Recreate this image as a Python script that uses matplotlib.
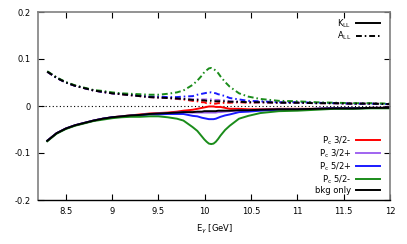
import numpy as np
import matplotlib
matplotlib.use('Agg')
import matplotlib.pyplot as plt
from matplotlib.lines import Line2D

plt.rcParams['font.family'] = 'DejaVu Sans'
plt.rcParams['mathtext.fontset'] = 'dejavusans'

# photon energy [GeV]
e_gamma = [8.3, 8.4, 8.5, 8.6, 8.7, 8.8, 8.9, 9.0, 9.1, 9.2, 9.3, 9.4, 9.5, 9.6, 9.7, 9.77,
           9.87, 9.92, 9.97, 9.995, 10.02, 10.045, 10.07, 10.095, 10.12, 10.145, 10.17, 10.22,
           10.27, 10.37, 10.47, 10.6, 10.8, 11.0, 11.2, 11.4, 11.6, 11.8, 12.0]

# K_LL (solid)
k_bkg = [-0.074, -0.058, -0.048, -0.041, -0.036, -0.031, -0.027, -0.024, -0.022, -0.020,
         -0.019, -0.017, -0.016, -0.015, -0.014, -0.013, -0.013, -0.012, -0.012, -0.011,
         -0.011, -0.011, -0.011, -0.011, -0.011, -0.010, -0.010, -0.010, -0.010, -0.009,
         -0.009, -0.008, -0.007, -0.007, -0.006, -0.005, -0.005, -0.004, -0.004]
k_32m = [-0.074, -0.058, -0.048, -0.041, -0.036, -0.031, -0.027, -0.024, -0.022, -0.020,
         -0.018, -0.016, -0.015, -0.014, -0.012, -0.010, -0.008, -0.006, -0.004, -0.003,
         -0.002, -0.001, -0.001, -0.001, -0.002, -0.002, -0.002, -0.004, -0.006, -0.006,
         -0.007, -0.007, -0.006, -0.006, -0.006, -0.005, -0.005, -0.004, -0.004]
k_32p = [-0.074, -0.058, -0.048, -0.041, -0.036, -0.031, -0.027, -0.024, -0.022, -0.020,
         -0.019, -0.017, -0.016, -0.015, -0.014, -0.013, -0.014, -0.014, -0.014, -0.014,
         -0.014, -0.014, -0.014, -0.014, -0.014, -0.013, -0.013, -0.012, -0.011, -0.009,
         -0.009, -0.008, -0.007, -0.007, -0.006, -0.005, -0.005, -0.004, -0.004]
k_52p = [-0.074, -0.058, -0.048, -0.041, -0.036, -0.031, -0.027, -0.024, -0.023, -0.021,
         -0.020, -0.018, -0.018, -0.017, -0.017, -0.017, -0.021, -0.022, -0.025, -0.026,
         -0.027, -0.028, -0.028, -0.028, -0.027, -0.025, -0.023, -0.020, -0.018, -0.013,
         -0.012, -0.010, -0.008, -0.008, -0.006, -0.005, -0.005, -0.004, -0.004]
k_52m = [-0.075, -0.059, -0.049, -0.042, -0.037, -0.032, -0.029, -0.026, -0.024, -0.023,
         -0.023, -0.022, -0.022, -0.024, -0.027, -0.031, -0.045, -0.053, -0.065, -0.071,
         -0.076, -0.080, -0.081, -0.080, -0.076, -0.070, -0.063, -0.051, -0.042, -0.027,
         -0.021, -0.015, -0.011, -0.010, -0.008, -0.006, -0.006, -0.005, -0.005]

# A_LL (dash-dot)
a_bkg = [0.073, 0.060, 0.050, 0.043, 0.038, 0.033, 0.030, 0.027, 0.025, 0.023,
         0.021, 0.019, 0.018, 0.017, 0.016, 0.015, 0.013, 0.013, 0.012, 0.012,
         0.011, 0.011, 0.011, 0.010, 0.010, 0.010, 0.010, 0.010, 0.009, 0.009,
         0.008, 0.008, 0.007, 0.007, 0.006, 0.006, 0.005, 0.005, 0.004]
a_32m = [0.073, 0.060, 0.050, 0.043, 0.038, 0.033, 0.030, 0.027, 0.025, 0.023,
         0.021, 0.019, 0.018, 0.017, 0.015, 0.014, 0.011, 0.010, 0.008, 0.008,
         0.006, 0.006, 0.006, 0.005, 0.005, 0.006, 0.006, 0.007, 0.007, 0.008,
         0.007, 0.008, 0.007, 0.007, 0.006, 0.006, 0.005, 0.005, 0.004]
a_32p = [0.073, 0.060, 0.050, 0.043, 0.038, 0.033, 0.030, 0.027, 0.025, 0.023,
         0.021, 0.019, 0.018, 0.017, 0.016, 0.015, 0.014, 0.015, 0.014, 0.014,
         0.014, 0.014, 0.014, 0.013, 0.013, 0.013, 0.012, 0.012, 0.010, 0.009,
         0.008, 0.008, 0.007, 0.007, 0.006, 0.006, 0.005, 0.005, 0.004]
a_52p = [0.073, 0.060, 0.050, 0.043, 0.038, 0.033, 0.030, 0.027, 0.026, 0.024,
         0.022, 0.020, 0.020, 0.019, 0.019, 0.020, 0.021, 0.024, 0.026, 0.027,
         0.028, 0.029, 0.029, 0.028, 0.027, 0.025, 0.024, 0.021, 0.017, 0.014,
         0.011, 0.010, 0.008, 0.008, 0.007, 0.006, 0.005, 0.005, 0.004]
a_52m = [0.074, 0.061, 0.051, 0.044, 0.039, 0.034, 0.032, 0.029, 0.027, 0.026,
         0.025, 0.024, 0.024, 0.026, 0.029, 0.033, 0.045, 0.054, 0.065, 0.072,
         0.076, 0.080, 0.081, 0.079, 0.075, 0.070, 0.063, 0.051, 0.041, 0.027,
         0.020, 0.015, 0.011, 0.010, 0.008, 0.007, 0.006, 0.006, 0.005]

labels = [r'P$_{\rm c}$ 3/2-', r'P$_{\rm c}$ 3/2+', r'P$_{\rm c}$ 5/2+', r'P$_{\rm c}$ 5/2-', 'bkg only']
colors = ['#ff0000', '#a064f0', '#1a1aff', '#1a8c1a', '#000000']
k_all = [k_32m, k_32p, k_52p, k_52m, k_bkg]
a_all = [a_32m, a_32p, a_52p, a_52m, a_bkg]

xticks = [8.5, 9, 9.5, 10, 10.5, 11, 11.5, 12]
xtick_labels = ['8.5', '9', '9.5', '10', '10.5', '11', '11.5', '12']
yticks = [-0.2, -0.1, 0, 0.1, 0.2]
ytick_labels = ['-0.2', '-0.1', '0', '0.1', '0.2']

fig = plt.figure(figsize=(4.07, 2.44), dpi=100)
ax = fig.add_axes([38/407, 1-200/244, 352/407, 188/244])

lw = 1.4
dd = [3, 1.5, 0.8, 1.5]
ax.axhline(0, color='black', lw=0.8, ls=(0, (1, 2.2)), zorder=1)
for k, a, c in zip(k_all, a_all, colors):
    ax.plot(e_gamma, k, color=c, lw=lw, solid_joinstyle='round')
    ax.plot(e_gamma, a, color=c, lw=lw, dashes=dd)

ax.set_xlim(8.2, 12)
ax.set_ylim(-0.2, 0.2)
ax.set_xticks(xticks)
ax.set_xticklabels(xtick_labels)
ax.set_yticks(yticks)
ax.set_yticklabels(ytick_labels)
ax.tick_params(direction='in', length=4, width=0.8, labelsize=6, top=True, right=True,
               pad=5, colors='black')
for s in ['left', 'top', 'right']:
    ax.spines[s].set_color('#808080')
    ax.spines[s].set_linewidth(1.2)
ax.spines['bottom'].set_color('black')
ax.spines['bottom'].set_linewidth(1.0)
ax.set_xlabel(r'E$_\gamma$ [GeV]', fontsize=6, labelpad=5)

# legend for the observables
h1 = [Line2D([], [], color='black', lw=lw),
      Line2D([], [], color='black', lw=lw, dashes=dd)]
leg1 = ax.legend(h1, [r'K$_{\rm LL}$', r'A$_{\rm LL}$'], loc='upper right', markerfirst=False,
                 frameon=False, fontsize=6, handlelength=2.8, handletextpad=0.6,
                 labelspacing=0.05, borderaxespad=0.2, bbox_to_anchor=(0.985, 1.0))
ax.add_artist(leg1)

# legend for the models
h2 = [Line2D([], [], color=c, lw=lw) for c in colors]
ax.legend(h2, labels, loc='lower right', markerfirst=False, frameon=False, fontsize=6,
          handlelength=2.8, handletextpad=0.6, labelspacing=0.05, borderaxespad=0.2,
          bbox_to_anchor=(0.985, 0.0))

fig.savefig('out.png', dpi=100)
